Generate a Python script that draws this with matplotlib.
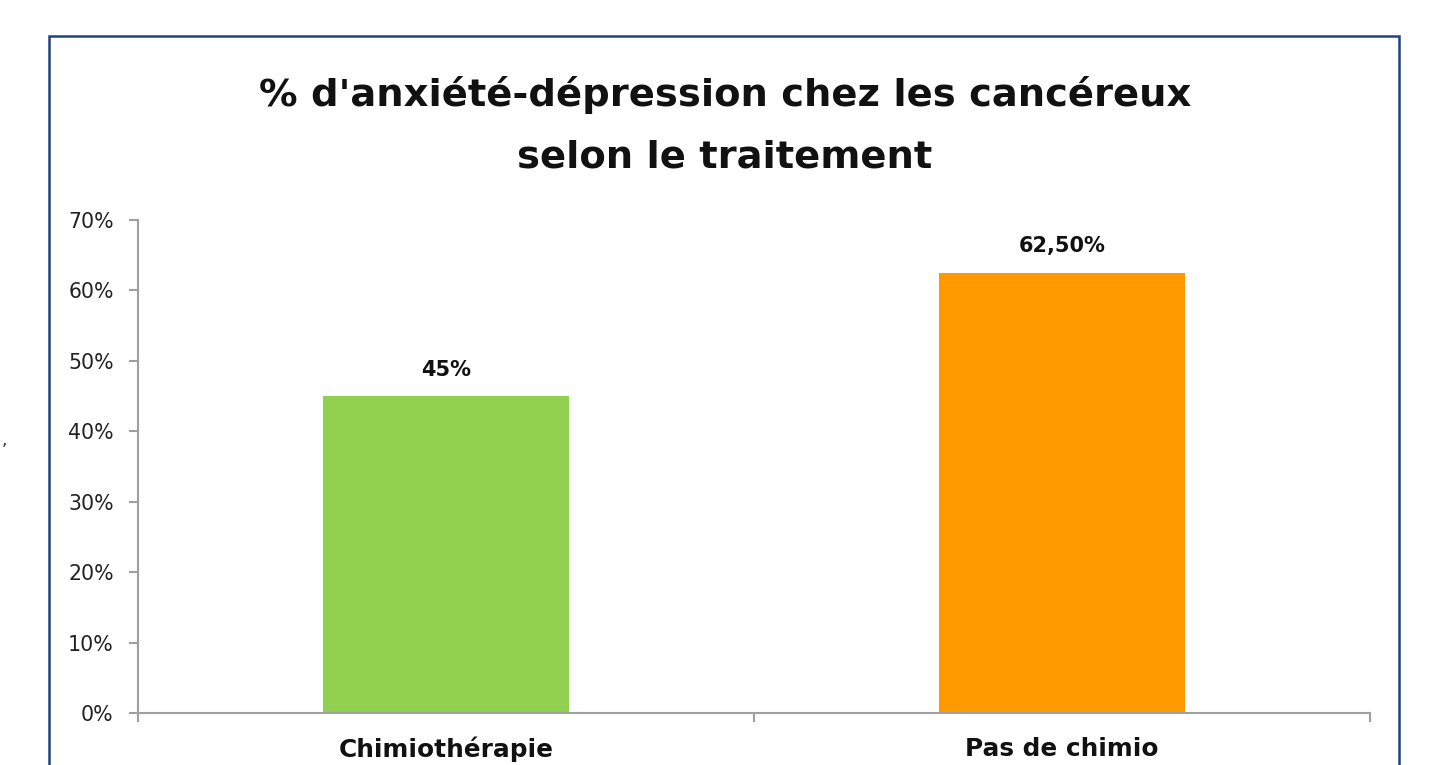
import matplotlib
matplotlib.use("Agg")
import matplotlib.pyplot as plt
from matplotlib.patches import Rectangle
from matplotlib.ticker import FixedLocator, PercentFormatter

categories = ["Chimiothérapie", "Pas de chimio"]
values = [45.0, 62.5]
value_labels = ["45%", "62,50%"]
colors = ["#92D050", "#FF9900"]
yticks = [0, 10, 20, 30, 40, 50, 60, 70]
title_lines = ["% d'anxiété-dépression chez les cancéreux", "selon le traitement"]

plt.rcParams['font.family'] = ['DejaVu Sans']

W, H = 1442, 765
fig = plt.figure(figsize=(W / 100, H / 100), dpi=100)
fig.patch.set_facecolor("white")

# frame border
fig.add_artist(Rectangle((49 / W, -0.1), (1399 - 49) / W, 0.1 + (H - 36) / H,
                         transform=fig.transFigure, fill=False,
                         edgecolor="#22427F", linewidth=1.8))

ax = fig.add_axes([138 / W, (H - 713) / H, (1370 - 138) / W, (713 - 220) / H])
x = list(range(len(categories)))
ax.bar(x, values, width=0.40, color=colors, zorder=2)
ax.set_xlim(-0.5, len(categories) - 0.5)
ax.set_ylim(0, 70)

for xi, v, lab in zip(x, values, value_labels):
    ax.annotate(lab, (xi, v), xytext=(0, 19), textcoords="offset points",
                ha="center", va="center", fontsize=15, fontweight="bold", color="#111111")

for s in ["top", "right"]:
    ax.spines[s].set_visible(False)
for s in ["left", "bottom"]:
    ax.spines[s].set_color("#A0A0A0")
    ax.spines[s].set_linewidth(1.5)

ax.set_yticks(yticks)
ax.yaxis.set_major_formatter(PercentFormatter(decimals=0))
ax.tick_params(axis="y", length=6.5, width=1.5, color="#A0A0A0", pad=11,
               labelsize=14.8, labelcolor="#222222")

ax.set_xticks(x)
ax.set_xticklabels(categories, fontsize=17.8, fontweight="bold", color="#111111")
ax.xaxis.set_minor_locator(FixedLocator([-0.5, 0.5, 1.5]))
ax.tick_params(axis="x", which="major", length=0, pad=17)
ax.tick_params(axis="x", which="minor", length=6.5, width=1.5, color="#A0A0A0")

for yy, line in zip([95, 158], title_lines):
    fig.text(725 / W, (H - yy) / H, line, ha="center", va="center",
             fontsize=27.7, fontweight="bold", color="#111111")

fig.text(2 / W, (H - 440) / H, ",", ha="left", va="center", fontsize=12, color="#333333")

fig.savefig("out.png", dpi=100)
